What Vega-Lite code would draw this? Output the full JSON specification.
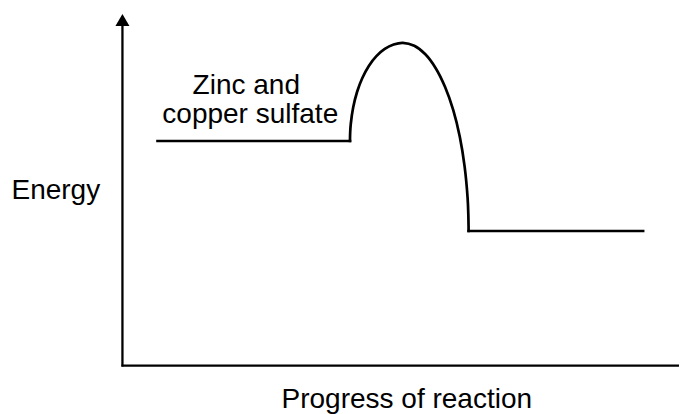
{
  "$schema": "https://vega.github.io/schema/vega-lite/v6.json",
  "width": 681,
  "height": 414,
  "autosize": {"type": "fit", "contains": "padding"},
  "padding": 0,
  "background": "white",
  "config": {"view": {"stroke": null}},
  "datasets": {
    "curve": [
      {"seg": "reactants", "x": 158, "y": 273},
      {"seg": "reactants", "x": 351, "y": 273},
      {"seg": "hump", "x": 351, "y": 273},
      {"seg": "hump", "x": 351.2, "y": 281.5},
      {"seg": "hump", "x": 351.8, "y": 290},
      {"seg": "hump", "x": 354.2, "y": 306.5},
      {"seg": "hump", "x": 358.1, "y": 322},
      {"seg": "hump", "x": 363.4, "y": 336},
      {"seg": "hump", "x": 369.9, "y": 348.1},
      {"seg": "hump", "x": 377.5, "y": 357.9},
      {"seg": "hump", "x": 385.9, "y": 365.1},
      {"seg": "hump", "x": 394.8, "y": 369.5},
      {"seg": "hump", "x": 404, "y": 371.2},
      {"seg": "hump", "x": 415.5, "y": 368.2},
      {"seg": "hump", "x": 426.6, "y": 359.7},
      {"seg": "hump", "x": 437, "y": 345.8},
      {"seg": "hump", "x": 446.4, "y": 327},
      {"seg": "hump", "x": 454.6, "y": 303.9},
      {"seg": "hump", "x": 461.2, "y": 277},
      {"seg": "hump", "x": 466, "y": 247.3},
      {"seg": "hump", "x": 469, "y": 215.7},
      {"seg": "hump", "x": 469.7, "y": 199.4},
      {"seg": "hump", "x": 470, "y": 183},
      {"seg": "products", "x": 470, "y": 183},
      {"seg": "products", "x": 645, "y": 183}
    ],
    "axes": [
      {"x": 122.8, "y": 388, "x2": 122.8, "y2": 47.5},
      {"x": 121.8, "y": 48.3, "x2": 681, "y2": 48.3}
    ],
    "arrow": [
      {"x": 122.8, "y": 393}
    ],
    "labels": [
      {"label": "Energy", "x": 56, "y": 215},
      {"label": "Zinc and", "x": 247, "y": 320},
      {"label": "copper sulfate", "x": 251, "y": 291},
      {"label": "Progress of reaction", "x": 408, "y": 6}
    ]
  },
  "encoding": {
    "x": {"field": "x", "type": "quantitative", "scale": {"domain": [0, 681], "nice": false, "zero": false}, "axis": null},
    "y": {"field": "y", "type": "quantitative", "scale": {"domain": [0, 414], "nice": false, "zero": false}, "axis": null}
  },
  "layer": [
    {
      "data": {"name": "axes"},
      "mark": {"type": "rule", "color": "black", "strokeWidth": 2.3},
      "encoding": {
        "x2": {"field": "x2"},
        "y2": {"field": "y2"}
      }
    },
    {
      "data": {"name": "arrow"},
      "mark": {"type": "point", "shape": "M0,-1L-1,0.714L1,0.714Z", "filled": true, "color": "black", "opacity": 1, "size": 196, "strokeWidth": 0},
      "encoding": {}
    },
    {
      "data": {"name": "curve"},
      "mark": {"type": "line", "color": "black", "strokeWidth": 2.7, "interpolate": "catmull-rom", "strokeCap": "square"},
      "encoding": {
        "detail": {"field": "seg", "type": "nominal"},
        "order": {"field": "x", "type": "quantitative"}
      }
    },
    {
      "data": {"name": "labels"},
      "mark": {"type": "text", "font": "Liberation Sans", "fontSize": 28, "color": "black", "align": "center", "baseline": "alphabetic"},
      "encoding": {
        "text": {"field": "label", "type": "nominal"}
      }
    }
  ]
}
